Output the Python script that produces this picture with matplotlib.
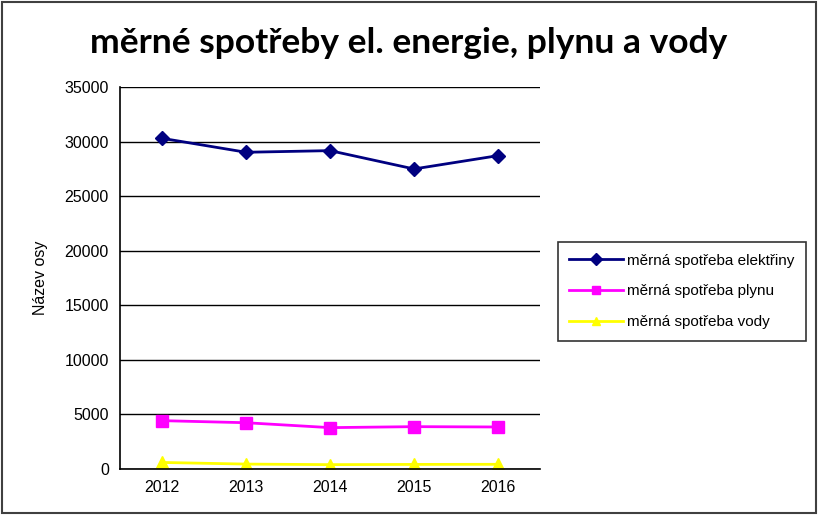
import matplotlib
matplotlib.use("Agg")
import matplotlib.pyplot as plt
from matplotlib.patches import Rectangle

years = ["2012", "2013", "2014", "2015", "2016"]
elektrina = [30300, 29020, 29170, 27490, 28710]
plyn = [4430, 4240, 3790, 3880, 3850]
voda = [600, 450, 400, 420, 430]
yticks = [0, 5000, 10000, 15000, 20000, 25000, 30000, 35000]

plt.rcParams['font.family'] = ['Liberation Sans', 'DejaVu Sans']

fig = plt.figure(figsize=(8.18, 5.15), dpi=100)
ax = fig.add_axes([120/818, 1-469/515, 420/818, 382/515])

x = list(range(len(years)))
ax.plot(x, elektrina, color='#000080', marker='D', markersize=7, lw=2, label='měrná spotřeba elektřiny')
ax.plot(x, plyn, color='#FF00FF', marker='s', markersize=8, lw=2, label='měrná spotřeba plynu')
ax.plot(x, voda, color='#FFFF00', marker='^', markersize=8, lw=2, label='měrná spotřeba vody')

ax.set_xlim(-0.5, 4.5)
ax.set_ylim(0, 35000)
ax.set_yticks(yticks)
ax.set_yticklabels([str(v) for v in yticks], fontsize=11.5)
ax.set_xticks(x)
ax.set_xticklabels(years, fontsize=11.5)
ax.tick_params(length=0, pad=8)
ax.grid(axis='y', color='black', lw=1)
ax.set_axisbelow(True)
for s in ['top', 'right']:
    ax.spines[s].set_visible(False)
for s in ['left', 'bottom']:
    ax.spines[s].set_color('black')
    ax.spines[s].set_linewidth(1.2)
ax.set_ylabel('Název osy', fontsize=11.5, labelpad=12)

fig.text(409/818, 1-43/515, 'měrné spotřeby el. energie, plynu a vody', ha='center', va='center',
         fontsize=25.5, fontweight='bold', family=['Lato', 'DejaVu Sans'])

leg = fig.legend(loc='center', bbox_to_anchor=(682/818, 1-291.5/515), fontsize=11,
                 frameon=True, fancybox=False, edgecolor='black', borderpad=0.75,
                 labelspacing=1.1, handlelength=3.5, handletextpad=0.3)
leg.get_frame().set_linewidth(1.2)
for h in leg.legend_handles:
    h.set_markersize(6)

fig.add_artist(Rectangle((0.002, 0.003), 0.996, 0.994, transform=fig.transFigure,
                         fill=False, edgecolor='#404040', lw=1.5))

fig.savefig('out.png', dpi=100)
